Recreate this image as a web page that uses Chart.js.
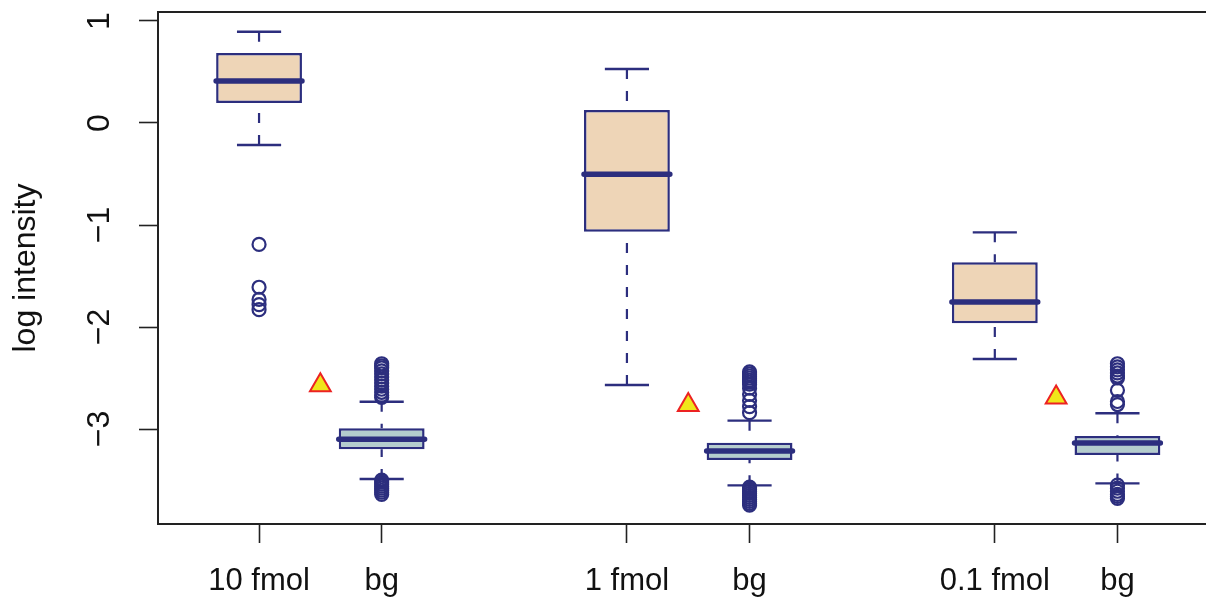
<!DOCTYPE html>
<html>
<head>
<meta charset="utf-8">
<script src="https://cdn.jsdelivr.net/npm/chart.js@4"></script>
<style>
  html, body { margin: 0; padding: 0; background: #fff; overflow: hidden; }
  /* the plot runs slightly past the window on the right, like the cropped original */
  #wrap { width: 1218px; height: 601px; position: relative; }
  canvas { display: block; }
</style>
</head>
<body>
<div id="wrap"><canvas id="boxChart"></canvas></div>
<script>
// groups along the x axis
const categories = ["10 fmol", "bg", "1 fmol", "bg", "0.1 fmol", "bg"];
const positions = [1, 2, 4, 5, 7, 8];

// box statistics (log intensity)
const whiskerLow = [-0.216, -3.49, -2.569, -3.552, -2.314, -3.533];
const q1 = [0.196, -3.199, -1.066, -3.304, -1.964, -3.255];
const medians = [0.412, -3.101, -0.503, -3.216, -1.755, -3.137];
const q3 = [0.686, -2.993, 0.127, -3.134, -1.366, -3.069];
const whiskerHigh = [0.895, -2.732, 0.529, -2.918, -1.072, -2.846];

// outliers per box
const outliers = [
  [-1.19, -1.61, -1.73, -1.78, -1.83],
  [-2.36, -2.38, -2.40, -2.43, -2.46, -2.49, -2.52, -2.55, -2.58, -2.61, -2.64, -2.67, -2.69,
   -3.50, -3.52, -3.54, -3.56, -3.58, -3.60, -3.62, -3.64],
  [],
  [-2.44, -2.46, -2.48, -2.50, -2.52, -2.54, -2.56, -2.60, -2.66, -2.72, -2.78, -2.84,
   -3.57, -3.59, -3.61, -3.63, -3.65, -3.67, -3.69, -3.71, -3.73, -3.745],
  [],
  [-2.36, -2.39, -2.42, -2.45, -2.48, -2.50, -2.62, -2.73, -2.76,
   -3.55, -3.58, -3.61, -3.64, -3.66, -3.68]
];

// triangle markers between sample and bg
const markerX = [1.5, 4.5, 7.5];
const markerY = [-2.57, -2.765, -2.69];

const yTicks = [1, 0, -1, -2, -3];

const navy = "#2c2e7e";
const sampleFill = "#eed5b7";
const bgFill = "#b4cdcd";
const boxWidth = 0.7;
const capWidth = 0.36;

Chart.defaults.font.family = "'Liberation Sans', Arial, sans-serif";
Chart.defaults.color = "#111";

// build line segments separated by gaps
const medianPts = [];
const whiskerPts = [];
const capPts = [];
const outlierPts = [];
positions.forEach((x, i) => {
  medianPts.push({ x: x - boxWidth / 2, y: medians[i] }, { x: x + boxWidth / 2, y: medians[i] }, { x, y: null });
  whiskerPts.push({ x, y: whiskerHigh[i] }, { x, y: q3[i] }, { x, y: null });
  whiskerPts.push({ x, y: whiskerLow[i] }, { x, y: q1[i] }, { x, y: null });
  capPts.push({ x: x - capWidth / 2, y: whiskerHigh[i] }, { x: x + capWidth / 2, y: whiskerHigh[i] }, { x, y: null });
  capPts.push({ x: x - capWidth / 2, y: whiskerLow[i] }, { x: x + capWidth / 2, y: whiskerLow[i] }, { x, y: null });
  outliers[i].forEach((v) => outlierPts.push({ x, y: v }));
});

const segmentLine = {
  type: "line",
  pointRadius: 0,
  spanGaps: false,
  fill: false,
  tension: 0,
  borderColor: navy,
};

// keep the plot frame where the reference puts it
function noLabelPadding(scale) {
  scale.paddingTop = 0;
  scale.paddingBottom = 0;
  scale.paddingLeft = 0;
  scale.paddingRight = 0;
}

new Chart(document.getElementById("boxChart"), {
  data: {
    datasets: [
      {
        type: "bar",
        data: positions.map((x, i) => ({ x, y: [q1[i], q3[i]] })),
        backgroundColor: categories.map((c) => (c === "bg" ? bgFill : sampleFill)),
        borderColor: navy,
        borderWidth: 2.5,
        borderSkipped: false,
        barPercentage: boxWidth,
        categoryPercentage: 1,
        order: 5,
      },
      { ...segmentLine, data: whiskerPts, borderWidth: 2.2, borderDash: [10, 12], order: 4 },
      { ...segmentLine, data: capPts, borderWidth: 2.4, order: 3 },
      { ...segmentLine, data: medianPts, borderWidth: 5.5, borderCapStyle: "round", order: 2 },
      {
        type: "scatter",
        data: outlierPts,
        pointRadius: 6.5,
        pointBorderWidth: 2.2,
        pointBorderColor: navy,
        pointBackgroundColor: "rgba(0,0,0,0)",
        order: 1,
      },
      {
        type: "scatter",
        data: markerX.map((x, i) => ({ x, y: markerY[i] })),
        pointStyle: "triangle",
        pointRadius: 12,
        pointBorderWidth: 2,
        pointBorderColor: "#ec2222",
        pointBackgroundColor: "#f0e61a",
        order: 0,
      },
    ],
  },
  options: {
    responsive: true,
    maintainAspectRatio: false,
    animation: false,
    events: [],
    layout: { autoPadding: false, padding: { top: 12, left: 0, right: 0, bottom: 0 } },
    plugins: { legend: { display: false }, tooltip: { enabled: false } },
    scales: {
      x: {
        type: "linear",
        position: "bottom",
        min: 0.176,
        max: 8.82,
        offset: false,
        afterBuildTicks: (scale) => {
          scale.ticks = positions.map((v) => ({ value: v }));
        },
        afterFit: (scale) => {
          scale.height = 77;
          noLabelPadding(scale);
        },
        ticks: {
          autoSkip: false,
          maxRotation: 0,
          padding: 20,
          font: { size: 31 },
          color: "#111",
          callback: (value, index) => categories[index],
        },
        grid: { offset: false, drawOnChartArea: false, drawTicks: true, tickLength: 19, tickWidth: 1.6, tickColor: "#222" },
        border: { display: true, color: "#222", width: 2 },
      },
      xTop: {
        type: "linear",
        position: "top",
        min: 0.176,
        max: 8.82,
        ticks: { display: false },
        grid: { display: false },
        afterFit: (scale) => {
          scale.height = 0;
          noLabelPadding(scale);
        },
        border: { display: true, color: "#222", width: 2 },
      },
      y: {
        type: "linear",
        position: "left",
        min: -3.931,
        max: 1.088,
        afterBuildTicks: (scale) => {
          scale.ticks = yTicks.map((v) => ({ value: v }));
        },
        afterFit: (scale) => {
          scale.width = 158;
          noLabelPadding(scale);
        },
        ticks: {
          minRotation: 90,
          maxRotation: 90,
          crossAlign: "center",
          padding: 21,
          font: { size: 32 },
          color: "#111",
          callback: (value) => String(value).replace("-", "\u2212"),
        },
        title: {
          display: true,
          text: "log intensity",
          font: { size: 32 },
          color: "#111",
          padding: { top: 7, bottom: 0 },
        },
        grid: { drawOnChartArea: false, drawTicks: true, tickLength: 19, tickWidth: 1.6, tickColor: "#222" },
        border: { display: true, color: "#222", width: 2 },
      },
    },
  },
});
</script>
</body>
</html>
